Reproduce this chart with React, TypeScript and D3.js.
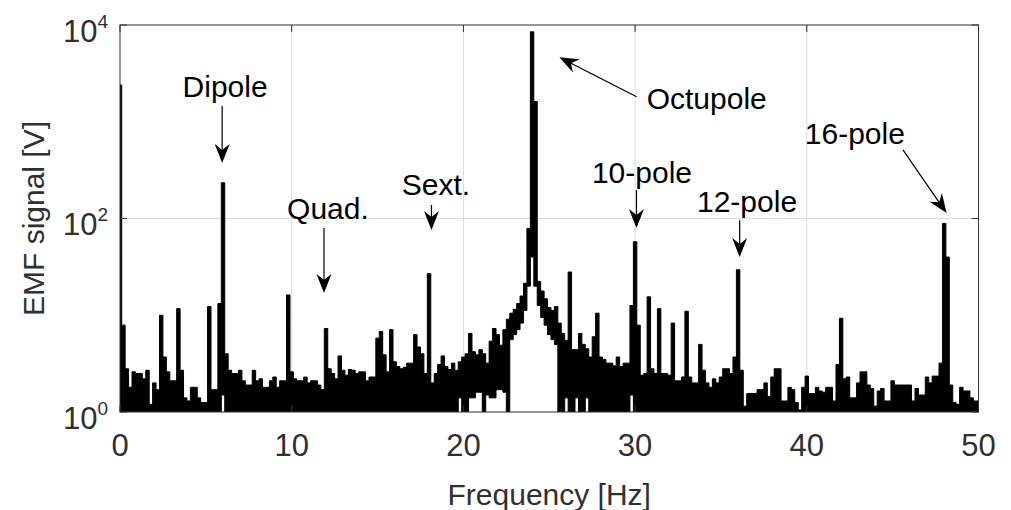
import React from 'react';
import * as d3 from 'd3';

// Spectrum sampled every 0.2 Hz from 0 to 50 Hz (upper envelope, volts)
const binWidthHz = 0.2;
const emfValues = [
  2400, 7.9, 2.8, 1.8, 2.6, 2.5, 2.5, 2.2, 2.7, 1.2,
  2.0, 1.7, 10, 3.7, 2.6, 2.1, 2.1, 11.7, 2.7, 1.4,
  1.3, 1.8, 1.8, 1.4, 1.25, 1.25, 12.3, 1.7, 1.7, 13.2,
  234, 4.0, 2.7, 2.5, 2.5, 2.7, 2.1, 1.9, 1.9, 2.7,
  2.1, 2.2, 1.8, 1.8, 2.1, 2.3, 1.8, 2.1, 2.1, 16.2,
  2.6, 2.2, 2.1, 2.1, 2.3, 2.0, 2.1, 2.1, 1.9, 1.7,
  7.3, 2.8, 2.5, 2.2, 3.8, 2.7, 2.4, 2.75, 2.7, 2.5,
  2.6, 2.6, 2.1, 2.3, 2.3, 5.8, 6.8, 3.9, 2.6, 7.1,
  3.3, 2.95, 2.8, 2.9, 3.2, 3.2, 6.3, 4.7, 4.0, 2.5,
  27, 2.0, 2.5, 3.1, 3.8, 2.95, 2.75, 3.2, 2.7, 3.3,
  3.7, 4.0, 6.5, 4.2, 3.9, 4.4, 4.0, 3.2, 5.4, 7.3,
  6.3, 4.9, 7.1, 9.1, 10.5, 11.5, 13.2, 15.8, 21.4, 79,
  8500, 1620, 22.4, 17.8, 14.8, 12.0, 11.2, 12.3, 8.3, 6.5,
  5.5, 28, 4.4, 4.4, 6.5, 5.0, 4.5, 3.7, 6.0, 10.5,
  3.7, 3.5, 3.2, 3.2, 3.0, 3.7, 2.95, 3.2, 3.2, 12.6,
  57.5, 7.9, 2.4, 2.5, 15.5, 2.8, 2.5, 11.7, 2.5, 2.5,
  2.4, 8.3, 2.1, 2.1, 2.3, 11.0, 2.3, 2.0, 2.0, 5.0,
  2.7, 2.0, 1.8, 2.2, 2.0, 2.3, 2.8, 2.8, 2.5, 3.7,
  29.5, 2.7, 1.15, 1.55, 1.55, 1.55, 1.7, 1.7, 2.0, 1.45,
  2.3, 2.8, 2.8, 1.3, 1.3, 1.8, 1.7, 1.25, 1.05, 1.8,
  2.35, 1.55, 1.55, 1.8, 1.65, 1.6, 1.8, 1.8, 1.3, 3.1,
  9.3, 2.2, 2.3, 1.4, 1.4, 2.0, 2.6, 2.6, 1.9, 1.75,
  1.15, 1.65, 1.75, 1.3, 1.3, 2.1, 1.9, 1.9, 1.9, 1.9,
  1.9, 1.3, 1.75, 1.5, 1.5, 2.3, 2.0, 2.35, 2.35, 3.2,
  89, 40, 1.9, 1.25, 1.2, 1.8, 1.65, 1.65, 1.4, 1.3, 1.3,
];

// Lower envelope where the trace does not reach the axis floor
const lowerHz = [6.0, 19.8, 20.4, 20.6, 20.8, 21.0, 21.4, 21.6, 21.8, 22.0, 22.2, 22.4,
  22.8, 23.0, 23.2, 23.4, 23.6, 23.8, 24.0, 24.2, 24.4, 24.6, 24.8, 25.0, 25.2, 25.4,
  26.0, 26.6, 27.2, 29.8];
const lowerValues = [1.5, 1.4, 1.4, 1.4, 1.6, 1.6, 1.5, 1.4, 1.4, 1.7, 1.7, 1.6,
  5.6, 6.3, 7.1, 8.3, 11.2, 20, 40, 20, 12.6, 9.5, 7.9, 6.3, 5.6, 5.0,
  1.4, 1.4, 1.4, 1.5];

const xTicks = [0, 10, 20, 30, 40, 50];
const yTicks = [1, 100, 10000];
const yTickExponents = ['0', '2', '4'];

const annLabels = ['Dipole', 'Quad.', 'Sext.', 'Octupole', '10-pole', '12-pole', '16-pole'];
const annTextHz = [6.12, 12.11, 18.4, 34.17, 30.4, 36.52, 42.8];
const annTextV = [1803, 99, 175, 1355, 233, 117, 589];
const annTailHz = [5.95, 11.88, 18.14, 30.09, 30.08, 36.09, 45.6];
const annTailV = [1455, 80, 138, 1816, 197, 96, 511];
const annTipHz = [5.95, 11.88, 18.14, 25.59, 30.08, 36.09, 48.14];
const annTipV = [375, 17, 76, 4637, 80, 40, 114];

const W = 1011;
const H = 510;
const M = { left: 120, right: 978.5, top: 25, bottom: 412 };
const FONT = '"Liberation Sans", Arial, Helvetica, sans-serif';
const AX = '#303030';

export default function App() {
  const x = d3.scaleLinear().domain([0, 50]).range([M.left, M.right]);
  const y = d3.scaleLog().domain([1, 1e4]).range([M.bottom, M.top]);

  const lower = emfValues.map(() => 0);
  lowerHz.forEach((hz, k) => {
    lower[Math.round(hz / binWidthHz)] = lowerValues[k];
  });

  const area = d3
    .area<number>()
    .x((_, i) => x(i * binWidthHz))
    .y0((_, i) => (lower[i] > 1 ? y(lower[i]) : M.bottom + 2))
    .y1((d) => y(Math.max(d, 1)))
    .curve(d3.curveStep);

  const tickLen = 7;

  const arrowHead = (x1: number, y1: number, x2: number, y2: number) => {
    const ang = Math.atan2(y2 - y1, x2 - x1);
    const L = 19;
    const w = 7.5;
    const notch = 13;
    const pts: [number, number][] = [
      [0, 0],
      [-L, -w],
      [-notch, 0],
      [-L, w],
    ];
    const c = Math.cos(ang);
    const s = Math.sin(ang);
    return pts
      .map(([px, py]) => `${x2 + px * c - py * s},${y2 + px * s + py * c}`)
      .join(' ');
  };

  return (
    <svg width={W} height={H} style={{ display: 'block', position: 'absolute', left: 0, top: 0, background: '#fff' }}>
      <defs>
        <clipPath id="plotClip">
          <rect x={M.left} y={M.top} width={M.right - M.left} height={M.bottom - M.top} />
        </clipPath>
      </defs>
      <rect x={0} y={0} width={W} height={H} fill="#fff" />
      {/* grid */}
      {xTicks.slice(1, -1).map((t) => (
        <line key={'gx' + t} x1={x(t)} x2={x(t)} y1={M.top} y2={M.bottom} stroke="#dedede" strokeWidth={1} />
      ))}
      {yTicks.slice(1, -1).map((t) => (
        <line key={'gy' + t} x1={M.left} x2={M.right} y1={y(t)} y2={y(t)} stroke="#dedede" strokeWidth={1} />
      ))}
      {/* spectrum */}
      <g clipPath="url(#plotClip)">
        <path d={area(emfValues) || ''} fill="#000" stroke="#000" strokeWidth={1} />
      </g>
      {/* axes box */}
      <rect x={M.left} y={M.top} width={M.right - M.left} height={M.bottom - M.top} fill="none" stroke={AX} strokeWidth={1} />
      {xTicks.map((t) => (
        <g key={'xt' + t}>
          <line x1={x(t)} x2={x(t)} y1={M.bottom} y2={M.bottom - tickLen} stroke={AX} />
          <line x1={x(t)} x2={x(t)} y1={M.top} y2={M.top + tickLen} stroke={AX} />
          <text x={x(t)} y={456} textAnchor="middle" fontFamily={FONT} fontSize={31} fill={AX}>
            {t}
          </text>
        </g>
      ))}
      {yTicks.map((t, i) => (
        <g key={'yt' + t}>
          <line x1={M.left} x2={M.left + tickLen} y1={y(t)} y2={y(t)} stroke={AX} />
          <line x1={M.right} x2={M.right - tickLen} y1={y(t)} y2={y(t)} stroke={AX} />
          <text x={108} y={y(t) + 16.5} textAnchor="end" fontFamily={FONT} fontSize={31} fill={AX}>
            10
            <tspan dy={-14} fontSize={19}>
              {yTickExponents[i]}
            </tspan>
          </text>
        </g>
      ))}
      {/* axis labels */}
      <text x={(M.left + M.right) / 2} y={505} textAnchor="middle" fontFamily={FONT} fontSize={30} fill={AX}>
        Frequency [Hz]
      </text>
      <text
        transform={`translate(44, ${(M.top + M.bottom) / 2}) rotate(-90)`}
        textAnchor="middle"
        fontFamily={FONT}
        fontSize={30}
        fill={AX}
      >
        EMF signal [V]
      </text>
      {/* annotations */}
      {annLabels.map((lab, i) => {
        const x1 = x(annTailHz[i]);
        const y1 = y(annTailV[i]);
        const x2 = x(annTipHz[i]);
        const y2 = y(annTipV[i]);
        const ang = Math.atan2(y2 - y1, x2 - x1);
        const xe = x2 - Math.cos(ang) * 13;
        const ye = y2 - Math.sin(ang) * 13;
        return (
          <g key={lab}>
            <text x={x(annTextHz[i])} y={y(annTextV[i])} textAnchor="middle" fontFamily={FONT} fontSize={30} fill="#000">
              {lab}
            </text>
            <line x1={x1} y1={y1} x2={xe} y2={ye} stroke="#000" strokeWidth={1.2} />
            <polygon points={arrowHead(x1, y1, x2, y2)} fill="#000" />
          </g>
        );
      })}
    </svg>
  );
}
